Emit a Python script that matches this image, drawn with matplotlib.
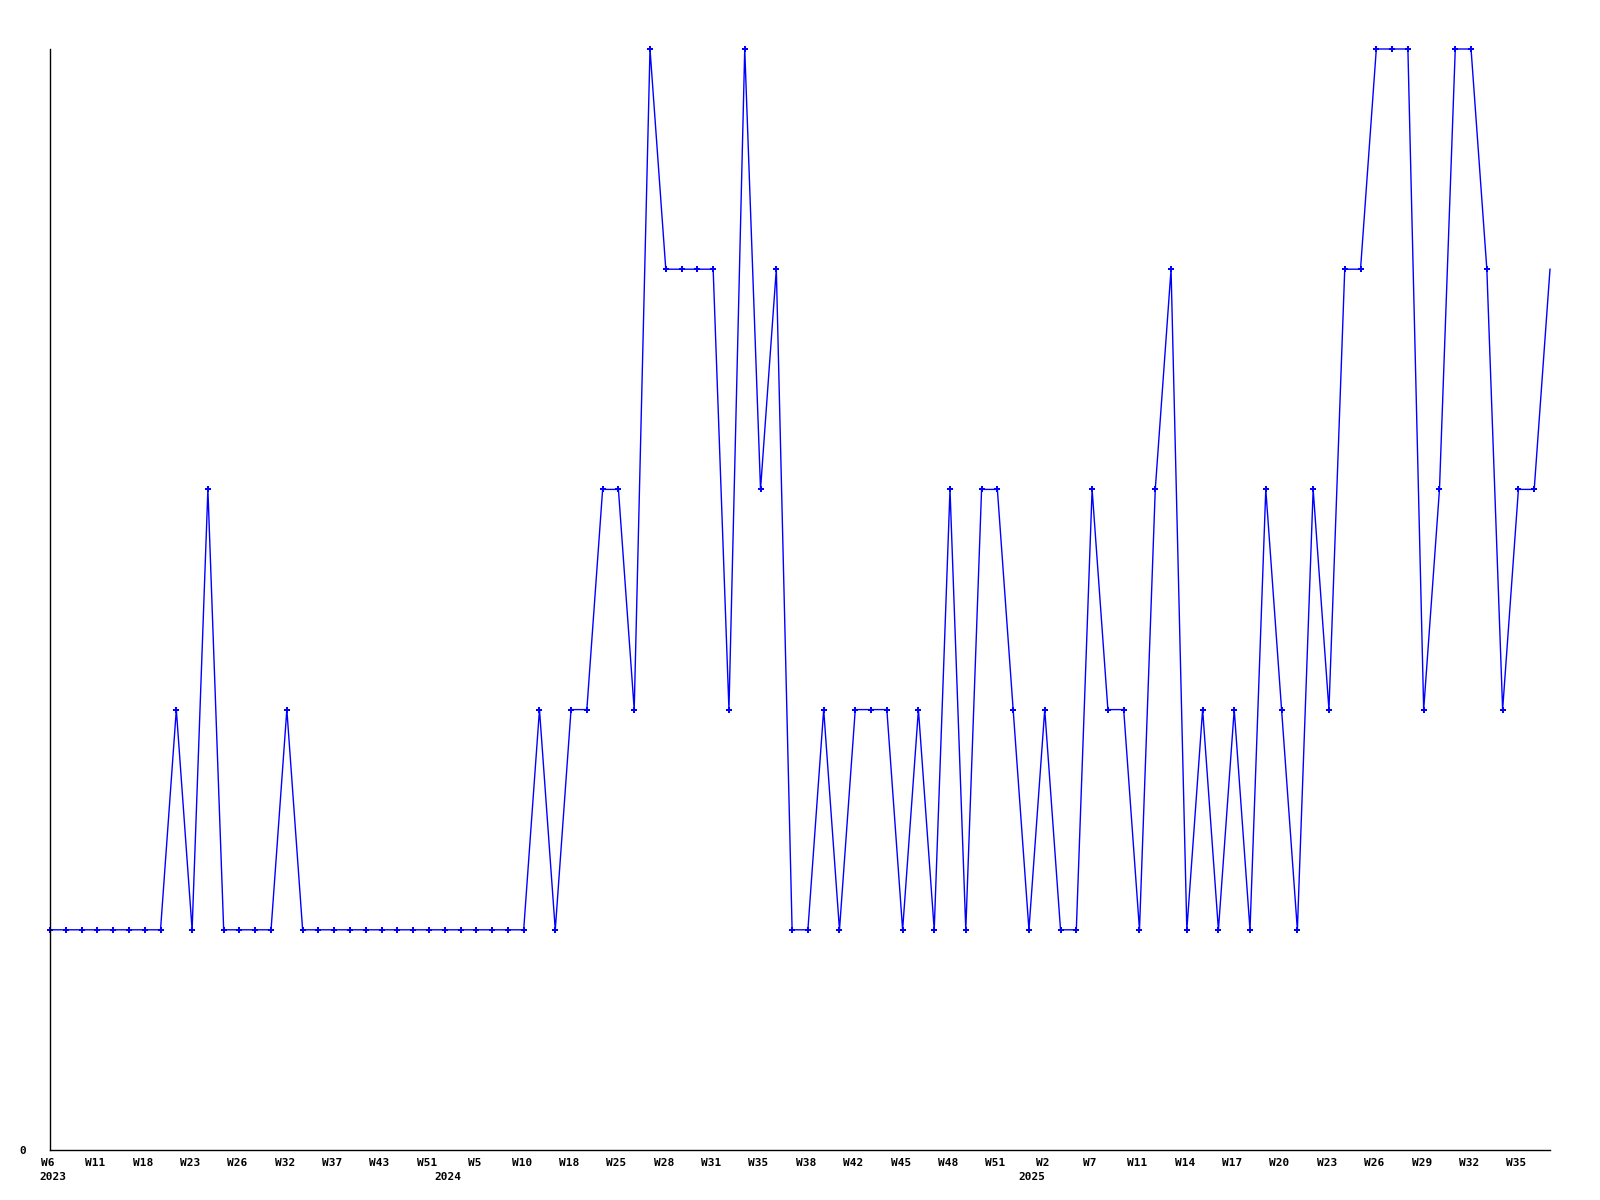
import matplotlib
matplotlib.use("Agg")
import matplotlib.pyplot as plt
import matplotlib.transforms as mtransforms

# Data: one point per sample, labels every third point
values = [
    1, 1, 1, 1, 1, 1, 1, 1, 2, 1, 3, 1, 1, 1, 1, 2,
    1, 1, 1, 1, 1, 1, 1, 1, 1, 1, 1, 1, 1, 1, 1, 2,
    1, 2, 2, 3, 3, 2, 5, 4, 4, 4, 4, 2, 5, 3, 4, 1,
    1, 2, 1, 2, 2, 2, 1, 2, 1, 3, 1, 3, 3, 2, 1, 2,
    1, 1, 3, 2, 2, 1, 3, 4, 1, 2, 1, 2, 1, 3, 2, 1,
    3, 2, 4, 4, 5, 5, 5, 2, 3, 5, 5, 4, 2, 3, 3, 4,
]
week_labels = [
    "W6", "W11", "W18", "W23", "W26", "W32", "W37", "W43", "W51", "W5", "W10",
    "W18", "W25", "W28", "W31", "W35", "W38", "W42", "W45", "W48", "W51", "W2",
    "W7", "W11", "W14", "W17", "W20", "W23", "W26", "W29", "W32", "W35",
]
label_step = 3
years = ["2023", "2024", "2025"]
year_start_idx = [0, 25, 62]

x = list(range(len(values)))
font = dict(family="DejaVu Sans Mono", fontweight="bold", fontsize=8)

fig = plt.figure(figsize=(16, 12), dpi=100)
ax = fig.add_axes([50 / 1600, 50 / 1200, 1500 / 1600, 1101 / 1200])

ax.plot(x, values, color="#0000ff", lw=1.0, marker="P", ms=5, mew=0,
        markevery=list(range(len(values) - 1)), clip_on=False)

ax.set_xlim(0, len(values) - 1)
ax.set_ylim(0, 5)

for side in ["top", "right"]:
    ax.spines[side].set_visible(False)
for side in ["left", "bottom"]:
    ax.spines[side].set_linewidth(1.0)
    ax.spines[side].set_color("black")

ax.set_xticks(x[::label_step][:len(week_labels)])
ax.set_xticklabels(week_labels, **font)
ax.set_yticks([0])
ax.set_yticklabels(["0"], **font)
ax.tick_params(axis="x", length=0, pad=5.5)
ax.tick_params(axis="y", length=0, pad=17)

# labels in the reference sit a couple of pixels left of the points
shift = mtransforms.ScaledTranslation(-2 / 100, 0, fig.dpi_scale_trans)
for lbl in ax.get_xticklabels():
    lbl.set_transform(lbl.get_transform() + shift)

for yr, idx in zip(years, year_start_idx):
    ax.annotate(yr, xy=(idx, 0), xycoords=("data", "axes fraction"),
                xytext=(2, -19.5), textcoords="offset points",
                ha="center", va="center", **font)

fig.savefig("out.png", dpi=100)
